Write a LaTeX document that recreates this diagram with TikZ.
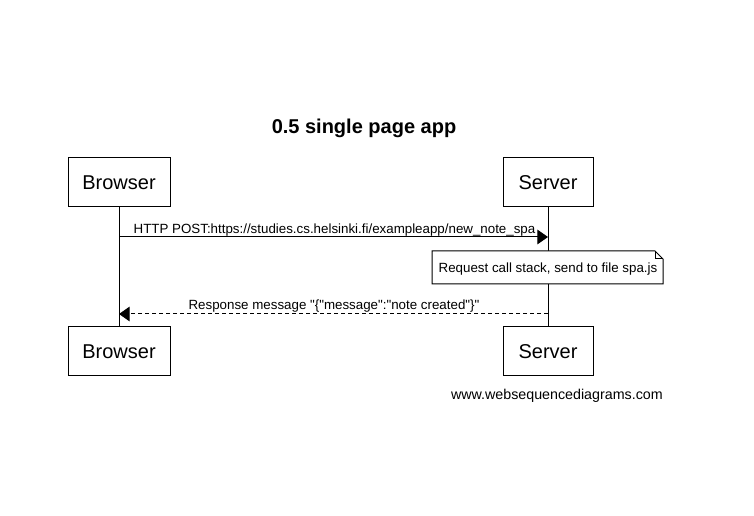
\documentclass[tikz,border=0pt]{standalone}
\usepackage{fontspec}
\setmainfont{Liberation Sans}[Ligatures=TeXOff]
\usetikzlibrary{arrows.meta}
\begin{document}
\begin{tikzpicture}[x=0.75pt,y=-0.75pt,
  actor/.style={draw,line width=0.75pt,minimum width=102*0.75pt,minimum height=49*0.75pt,inner sep=0pt,font=\fontsize{15}{18}\selectfont},
  msg/.style={font=\fontsize{10}{12}\selectfont,inner sep=0pt},
  lifeline/.style={line width=0.75pt},
  call/.style={line width=0.75pt,-{Triangle[length=8pt,width=11pt]}},
  reply/.style={line width=0.75pt,dash pattern=on 3pt off 2.25pt,-{Triangle[length=8pt,width=11pt]}}]
\useasboundingbox (0,0) rectangle (754,516);
\node[font=\bfseries\fontsize{15}{18}\selectfont] (title) at (364,128) {0.5 single page app};
% participants, top and bottom
\node[actor] (bt) at (119,182.5) {Browser};
\node[actor,minimum width=90*0.75pt] (st) at (548,182.5) {Server};
\node[actor] (bb) at (119,351.5) {Browser};
\node[actor,minimum width=90*0.75pt] (sb) at (548,351.5) {Server};
\draw[lifeline] (bt.south) -- (bb.north);
\draw[lifeline] (st.south) -- (sb.north);
% request
\coordinate (r1) at (119,237);
\coordinate (r2) at (548,237);
\draw[call] (r1) -- (r2);
\node[msg,anchor=base] (m1) at (334.5,233.5) {HTTP POST:https://studies.cs.helsinki.fi/exampleapp/new\_note\_spa};
% note with folded corner
\draw[line width=0.75pt,fill=white] (432,251) -- (655,251) -- (663,259) -- (663,284) -- (432,284) -- cycle;
\draw[line width=0.75pt] (655,251) -- (655,259) -- (663,259);
\node[msg,anchor=base] (note) at (548,272.5) {Request call stack, send to file spa.js};
% response
\coordinate (p1) at (548,314);
\coordinate (p2) at (119,314);
\draw[reply] (p1) -- (p2);
\node[msg,anchor=base] (m2) at (334,309.5) {Response message "\{"message":"note created"\}"};
\node[font=\fontsize{10.7}{12}\selectfont,anchor=base east,inner sep=0pt] (wsd) at (663,399.5) {www.websequencediagrams.com};
\end{tikzpicture}
\end{document}
